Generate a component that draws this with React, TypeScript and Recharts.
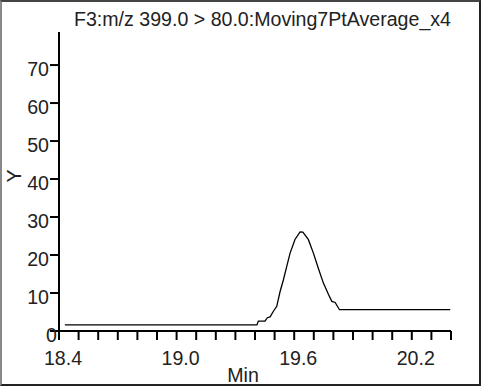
import { LineChart, Line, XAxis, YAxis } from "recharts";

const times = [
  18.43, 19.41, 19.417, 19.451, 19.463, 19.477, 19.494, 19.511, 19.528, 19.545,
  19.562, 19.579, 19.604, 19.63, 19.644, 19.672, 19.698, 19.723, 19.749, 19.775,
  19.792, 19.809, 19.831, 20.396,
];
const intensity = [
  1.6, 1.6, 2.6, 2.6, 3.5, 3.7, 5.2, 6.5, 10.4, 13.5,
  17, 20.5, 24.1, 26.1, 26, 24.1, 20.5, 16.5, 12.6, 9.6,
  7.8, 7.5, 5.6, 5.6,
];
const xTicks = [
  18.4, 18.5, 18.6, 18.7, 18.8, 18.9, 19.0, 19.1, 19.2, 19.3, 19.4,
  19.5, 19.6, 19.7, 19.8, 19.9, 20.0, 20.1, 20.2, 20.3, 20.4,
];
const xLabels = ["18.4", "19.0", "19.6", "20.2"];
const yTicks = [0, 10, 20, 30, 40, 50, 60, 70];

const title = "F3:m/z 399.0 > 80.0:Moving7PtAverage_x4";

const data = times.map((t, i) => ({ t, y: intensity[i] }));

const FONT = "'Liberation Sans', Arial, sans-serif";
const FS = 19.6;

function XTick(props: any) {
  const { x, y, index } = props;
  if (index % 6 !== 0) return null;
  const label = xLabels[index / 6];
  return (
    <text x={x + 4} y={y + 23} textAnchor="middle" fontSize={FS} fill="#222" fontFamily={FONT}>
      {label}
    </text>
  );
}

function YTick(props: any) {
  const { x, y, payload } = props;
  const dx = payload.value === 0 ? 8 : 0;
  return (
    <text x={x + dx} y={y + 10.5} textAnchor="end" fontSize={FS} fill="#222" fontFamily={FONT}>
      {payload.value}
    </text>
  );
}

export default function App() {
  return (
    <div style={{ position: "absolute", left: 0, top: 0, width: 481, height: 386, background: "#fff", overflow: "hidden" }}>
      <LineChart
        width={481}
        height={386}
        data={data}
        margin={{ top: 32, right: 30, left: 0, bottom: 0 }}
      >
        <XAxis
          dataKey="t"
          type="number"
          domain={[18.4, 20.4]}
          ticks={xTicks}
          interval={0}
          allowDataOverflow
          height={55}
          tickSize={9}
          tickMargin={2}
          stroke="#000"
          strokeWidth={2}
          tick={<XTick />}
          tickLine={{ stroke: "#000", strokeWidth: 2 }}
        />
        <YAxis
          type="number"
          domain={[0, 78.7]}
          ticks={yTicks}
          interval={0}
          allowDataOverflow
          width={59}
          tickSize={9}
          tickMargin={1}
          stroke="#000"
          strokeWidth={2}
          tick={<YTick />}
          tickLine={{ stroke: "#000", strokeWidth: 2 }}
        />
        <Line
          dataKey="y"
          type="linear"
          stroke="#000"
          strokeWidth={1.3}
          dot={false}
          isAnimationActive={false}
        />
        <text x={451} y={26} textAnchor="end" fontSize={FS} fill="#222" fontFamily={FONT}>
          {title}
        </text>
        <text
          x={14}
          y={176}
          textAnchor="middle"
          dominantBaseline="central"
          fontSize={FS}
          fill="#222"
          fontFamily={FONT}
          transform="rotate(-90 14 176)"
        >
          Y
        </text>
        <text x={243} y={382} textAnchor="middle" fontSize={FS} fill="#222" fontFamily={FONT}>
          Min
        </text>
      </LineChart>
      <div
        style={{
          position: "absolute",
          left: 0,
          top: 0,
          width: 481,
          height: 386,
          boxSizing: "border-box",
          borderTop: "2px solid #444",
          borderLeft: "2px solid #888",
          borderRight: "2px solid #222",
          borderBottom: "2px solid #222",
          pointerEvents: "none",
        }}
      />
    </div>
  );
}
